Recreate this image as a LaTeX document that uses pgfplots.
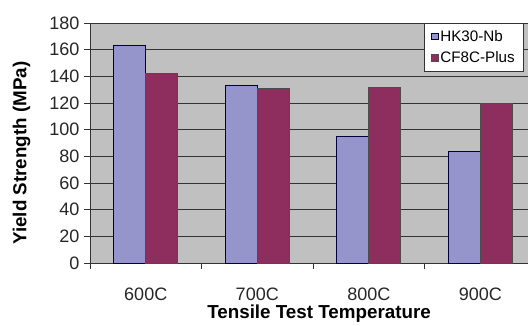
\documentclass[border=0pt]{standalone}
\usepackage{pgfplots}
\pgfplotsset{compat=1.18}
\usepackage{fontspec}
\setmainfont{Liberation Sans}
\definecolor{hkcol}{RGB}{149,149,203}
\definecolor{cfcol}{RGB}{142,46,94}
\definecolor{plotgray}{RGB}{192,192,192}
\begin{document}
\begin{tikzpicture}
\path[use as bounding box] (-90pt,-62pt) rectangle (438pt,263pt);
\begin{axis}[
  at={(0pt,0pt)}, anchor=south west,
  scale only axis,
  width=438pt, height=240pt,
  xmin=-0.5, xmax=3.428,
  ymin=0, ymax=180,
  axis x line*=bottom, axis y line*=left,
  axis line style={black!80, line width=0.8pt},
  axis background/.style={fill=plotgray},
  ybar=0pt, bar width=32pt,
  xtick={0,1,2,3},
  xticklabels={600C,700C,800C,900C},
  minor xtick={-0.5,0.5,1.5,2.5},
  ytick={0,20,...,180},
  tick align=outside,
  major tick length=6pt, minor tick length=6pt,
  major x tick style={draw=none},
  minor x tick style={black!80, line width=0.8pt},
  major y tick style={black!80, line width=0.8pt},
  ymajorgrids,
  major grid style={black!80, line width=0.8pt},
  /pgf/number format/assume math mode=true,
  tick label style={font=\fontsize{18}{21}\selectfont, text=black!85},
  yticklabel style={xshift=-1pt},
  xticklabel style={yshift=-15pt},
  xlabel={Tensile Test Temperature},
  ylabel={Yield Strength (MPa)},
  label style={font=\fontsize{18.8}{22}\selectfont\bfseries},
  xlabel style={at={(axis description cs:0.523,-0.213)}, anchor=center},
  ylabel style={at={(axis description cs:-0.156,0.458)}, anchor=center},
  legend style={at={(axis description cs:1,1)}, xshift=-4pt, anchor=north east,
    draw=black!80, line width=0.6pt, fill=white,
    font=\fontsize{15.2}{18}\selectfont, row sep=5pt, inner xsep=7pt, inner ysep=5pt},
  legend cell align=left,
  legend image code/.code={\draw[#1, line width=0.5pt] (0pt,-3pt) rectangle (6.5pt,3.5pt);},
]
\addplot[fill=hkcol, draw=black!60!blue!60!black, line width=0.6pt] coordinates {(0,163) (1,133) (2,95) (3,84)};
\addplot[fill=cfcol, draw=black!70, line width=0.6pt] coordinates {(0,142) (1,131) (2,132) (3,120)};
\legend{HK30-Nb, CF8C-Plus}
\end{axis}
\end{tikzpicture}
\end{document}
